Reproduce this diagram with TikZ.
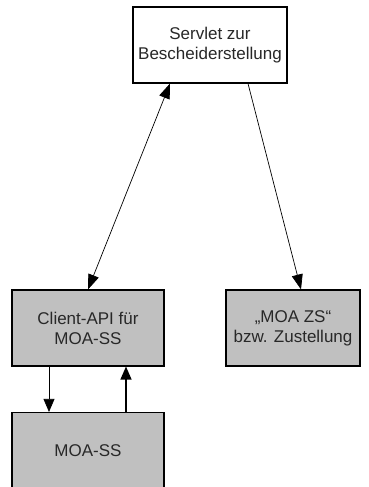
\documentclass[tikz,border=0pt]{standalone}
\usepackage{fontspec}
\setmainfont{Liberation Sans}
\usetikzlibrary{arrows.meta}
\definecolor{boxgray}{RGB}{192,192,192}
\definecolor{txt}{RGB}{40,40,40}
\tikzset{
  box/.style={draw=black, line width=1.1pt, minimum width=#1, minimum height=76pt, inner sep=0pt,
    align=center, font=\fontsize{17}{20}\selectfont, text=txt},
  graybox/.style={box=#1, fill=boxgray},
  whitebox/.style={box=#1, fill=white},
  conn/.style={line width=0.7pt, -{Triangle[length=13pt,width=11pt]}},
  sconn/.style={line width=0.7pt, -{Triangle[length=15pt,width=11pt]}},
  dconn/.style={line width=0.7pt, {Triangle[length=15pt,width=11pt]}-{Triangle[length=15pt,width=11pt]}},
}
\begin{document}
\begin{tikzpicture}[x=1pt,y=-1pt]
\useasboundingbox (0,0) rectangle (369,487);
\clip (0,0) rectangle (369,487);
\node[whitebox=154pt] (servlet) at (210,45) {Servlet zur\\Bescheiderstellung};
\node[graybox=152pt] (client) at (88,328) {Client-API für\\MOA-SS};
\node[graybox=134pt] (zs) at (293,328) {„MOA ZS“\\bzw. Zustellung};
\node[graybox=152pt] (moass) at (88,450.5) {MOA-SS};
\draw[dconn] (client.north) -- ([xshift=-40pt]servlet.south);
\draw[sconn] ([xshift=38pt]servlet.south) -- ([xshift=8pt]zs.north);
\draw[conn] ([xshift=-39pt]client.south) -- ([xshift=-39pt]moass.north);
\draw[conn, line width=1.3pt] ([xshift=38pt]moass.north) -- ([xshift=38pt]client.south);
\end{tikzpicture}
\end{document}
